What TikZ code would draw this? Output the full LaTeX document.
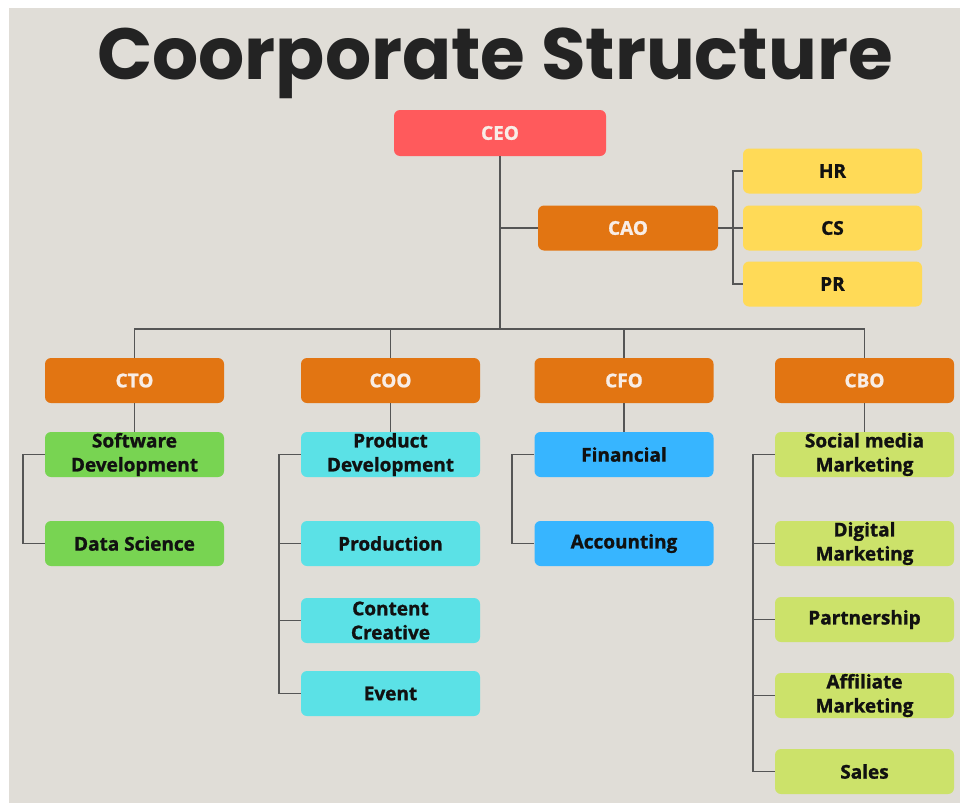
\documentclass[tikz,border=0pt]{standalone}
\usepackage{fontspec}
\setmainfont{Open Sans}[BoldFeatures={FakeBold=1.2}]
\newfontfamily\titlefont{Poppins}
\definecolor{bgc}{HTML}{E0DDD7}
\definecolor{ceoc}{HTML}{FF5A5C}
\definecolor{orc}{HTML}{E27512}
\definecolor{yelc}{HTML}{FFDA57}
\definecolor{grc}{HTML}{78D452}
\definecolor{cyc}{HTML}{5BE1E6}
\definecolor{blc}{HTML}{37B5FF}
\definecolor{limc}{HTML}{CCE26A}
\definecolor{linec}{HTML}{555555}
\definecolor{wtxt}{HTML}{F8EDE6}
\definecolor{btxt}{HTML}{111111}
\definecolor{titc}{HTML}{232323}
\tikzset{
  box/.style={rounded corners=6pt, minimum width=179pt, minimum height=45pt, inner sep=0pt,
    align=center, font=\bfseries\fontsize{19}{24}\selectfont},
  exec/.style={box, fill=orc, text=wtxt},
  sub/.style={box, text=btxt},
  conn/.style={draw=linec, line width=1.4pt}
}
\begin{document}
\begin{tikzpicture}[x=1pt,y=-1pt]
\useasboundingbox (0,0) rectangle (960,803);
\fill[white] (0,0) rectangle (960,803);
\fill[bgc] (9,8) rectangle (960,803);
\node[font=\titlefont\bfseries\fontsize{72.5}{80}\selectfont, text=titc, anchor=base, inner sep=0pt] (title) at (495,79) {Coorporate Structure};

\node[box, fill=ceoc, text=wtxt, minimum width=212pt, minimum height=46pt] (ceo) at (500,133) {CEO};
\node[exec, minimum width=180pt] (cao) at (628,228) {CAO};
\node[sub, fill=yelc] (hr) at (832.5,171) {HR};
\node[sub, fill=yelc] (cs) at (832.5,228) {CS};
\node[sub, fill=yelc] (pr) at (832.5,284) {PR};

\node[exec] (cto) at (134.5,380.5) {CTO};
\node[exec] (coo) at (390.5,380.5) {COO};
\node[exec] (cfo) at (624,380.5) {CFO};
\node[exec] (cbo) at (864.5,380.5) {CBO};

\node[sub, fill=grc] (sd) at (134.5,454.5) {Software\\Development};
\node[sub, fill=grc] (ds) at (134.5,543.5) {Data Science};

\node[sub, fill=cyc] (pd) at (390.5,454.5) {Product\\Development};
\node[sub, fill=cyc] (prod) at (390.5,543.5) {Production};
\node[sub, fill=cyc] (cc) at (390.5,620.5) {Content\\Creative};
\node[sub, fill=cyc] (ev) at (390.5,693.5) {Event};

\node[sub, fill=blc] (fin) at (624,454.5) {Financial};
\node[sub, fill=blc] (acc) at (624,543.5) {Accounting};

\node[sub, fill=limc] (smm) at (864.5,454.5) {Social media\\Marketing};
\node[sub, fill=limc] (dm) at (864.5,543.5) {Digital\\Marketing};
\node[sub, fill=limc] (pa) at (864.5,619.5) {Partnership};
\node[sub, fill=limc] (am) at (864.5,695.5) {Affiliate\\Marketing};
\node[sub, fill=limc] (sa) at (864.5,771.5) {Sales};

\coordinate (bus) at (500,329);
\coordinate (caob) at (733,228);
\coordinate (ctob) at (23,0);
\coordinate (coob) at (279,0);
\coordinate (cfob) at (512,0);
\coordinate (cbob) at (753,0);

% CEO trunk
\draw[conn] (ceo.south) -- (bus);
\draw[conn] (cao.west) -- (cao.west -| ceo.south);
\draw[conn] (cto.north) -- (cto.north |- bus) -- (cbo.north |- bus) -- (cbo.north);
\draw[conn] (coo.north) -- (coo.north |- bus);
\draw[conn] (cfo.north) -- (cfo.north |- bus);

% CAO bracket
\draw[conn] (cao.east) -- (cs.west);
\draw[conn] (hr.west) -- (hr.west -| caob) -- (pr.west -| caob) -- (pr.west);

% exec to first sub
\draw[conn] (cto.south) -- (sd.north);
\draw[conn] (coo.south) -- (pd.north);
\draw[conn] (cfo.south) -- (fin.north);
\draw[conn] (cbo.south) -- (smm.north);

% brackets
\draw[conn] (sd.west) -- (sd.west -| ctob) -- (ds.west -| ctob) -- (ds.west);
\draw[conn] (pd.west) -- (pd.west -| coob) -- (ev.west -| coob) -- (ev.west);
\draw[conn] (prod.west) -- (prod.west -| coob);
\draw[conn] (cc.west) -- (cc.west -| coob);
\draw[conn] (fin.west) -- (fin.west -| cfob) -- (acc.west -| cfob) -- (acc.west);
\draw[conn] (smm.west) -- (smm.west -| cbob) -- (sa.west -| cbob) -- (sa.west);
\draw[conn] (dm.west) -- (dm.west -| cbob);
\draw[conn] (pa.west) -- (pa.west -| cbob);
\draw[conn] (am.west) -- (am.west -| cbob);
\end{tikzpicture}
\end{document}
